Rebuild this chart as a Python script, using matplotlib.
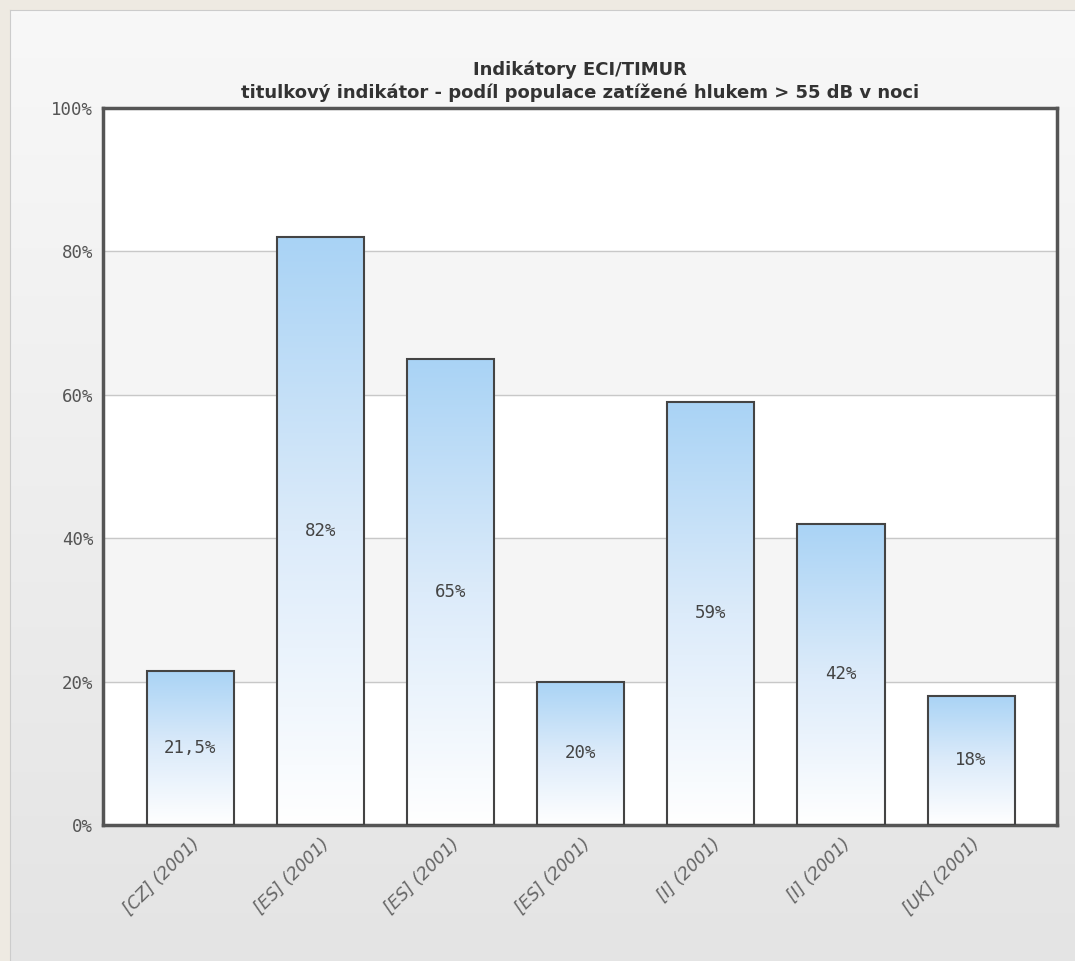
import numpy as np
import matplotlib.pyplot as plt
from matplotlib.patches import Rectangle
from matplotlib.colors import LinearSegmentedColormap

categories = ["[CZ] (2001)", "[ES] (2001)", "[ES] (2001)", "[ES] (2001)",
              "[I] (2001)", "[I] (2001)", "[UK] (2001)"]
values = [21.5, 82, 65, 20, 59, 42, 18]
value_labels = ["21,5%", "82%", "65%", "20%", "59%", "42%", "18%"]
yticks = [0, 20, 40, 60, 80, 100]
title_lines = ["Indikátory ECI/TIMUR",
               "titulkový indikátor - podíl populace zatížené hlukem > 55 dB v noci"]

W, H = 1075, 961
fig = plt.figure(figsize=(W / 100, H / 100), dpi=100)
fig.patch.set_facecolor("#eeeae2")

# panel with a soft vertical gradient
bg = fig.add_axes([10 / W, 0, 1 - 10 / W, 1 - 10 / H])
bg_cmap = LinearSegmentedColormap.from_list("bg", ["#e4e4e4", "#f8f8f8"])
bg.imshow(np.linspace(0, 1, 256).reshape(-1, 1), aspect="auto", cmap=bg_cmap,
          origin="lower", extent=[0, 1, 0, 1])
bg.set_xlim(0, 1)
bg.set_ylim(0, 1)
for s in bg.spines.values():
    s.set_visible(False)
bg.spines["left"].set_visible(True)
bg.spines["top"].set_visible(True)
bg.spines["left"].set_color("#cccccc")
bg.spines["top"].set_color("#cccccc")
bg.set_xticks([])
bg.set_yticks([])

left, right, top, bottom = 103, 1057, 108, 825
ax = fig.add_axes([left / W, 1 - bottom / H, (right - left) / W, (bottom - top) / H])
ax.set_facecolor("white")

# alternating bands and grid
for i, y0 in enumerate(yticks[:-1]):
    if i % 2 == 1:
        ax.axhspan(y0, y0 + 20, color="#f5f5f5", zorder=0)
for y in yticks[1:-1]:
    ax.axhline(y, color="#c8c8c8", lw=1, zorder=1)

bar_cmap = LinearSegmentedColormap.from_list("bar", ["#ffffff", "#dcebfa", "#a9d3f5"])
grad = np.linspace(0, 1, 256).reshape(-1, 1)
x = np.arange(len(categories))
width = 0.67
bars = ax.bar(x, values, width, facecolor="none", edgecolor="#444444", lw=1.5, zorder=3)
for bar, lab in zip(bars, value_labels):
    bx, bw, bh = bar.get_x(), bar.get_width(), bar.get_height()
    im = ax.imshow(grad, aspect="auto", cmap=bar_cmap, origin="lower",
                   extent=[bx, bx + bw, 0, bh], zorder=2)
    clip = Rectangle((bx, 0), bw, bh, transform=ax.transData)
    im.set_clip_path(clip)
    ax.text(bx + bw / 2, bh / 2, lab, ha="center", va="center",
            family="DejaVu Sans Mono", fontsize=12.5, color="#444444", zorder=4)

ax.set_xlim(-0.67, 6.66)
ax.set_ylim(0, 100)
ax.set_yticks(yticks)
ax.set_yticklabels([f"{v}%" for v in yticks], family="DejaVu Sans Mono",
                   fontsize=12.5, color="#555555")
ax.set_xticks(x)
ax.set_xticklabels(categories, rotation=45, ha="right", rotation_mode="anchor",
                   fontstyle="italic", fontsize=12.5, color="#666666")
ax.tick_params(length=0, pad=7)
for s in ax.spines.values():
    s.set_color("#555555")
    s.set_linewidth(2.5)

fig.text((left + right) / 2 / W, 1 - 70 / H, title_lines[0], ha="center", va="center",
         fontsize=13, fontweight="bold", color="#333333", family="DejaVu Sans")
fig.text((left + right) / 2 / W, 1 - 93 / H, title_lines[1], ha="center", va="center",
         fontsize=13, fontweight="bold", color="#333333", family="DejaVu Sans")

fig.savefig("out.png", dpi=100, facecolor=fig.get_facecolor())
